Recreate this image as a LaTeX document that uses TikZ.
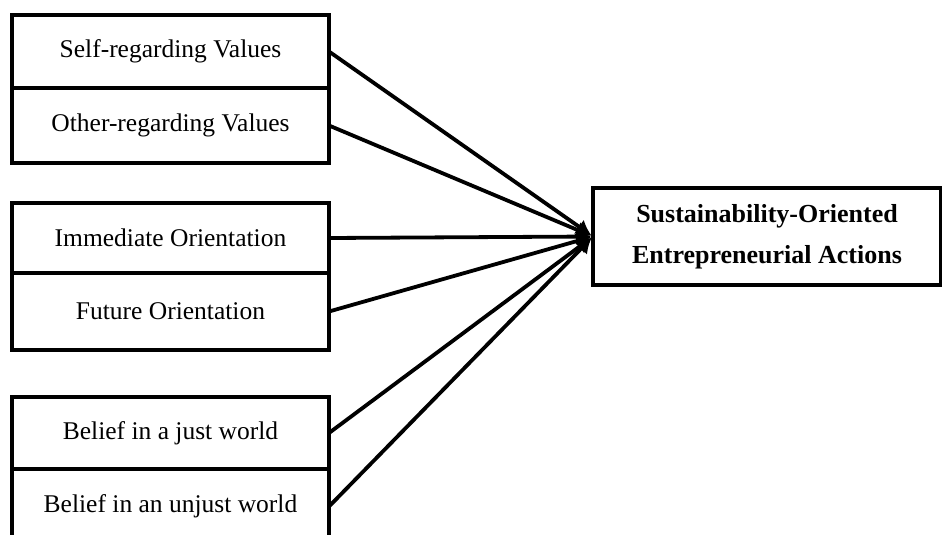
\documentclass[tikz,border=0pt]{standalone}
\usepackage{fontspec}
\setmainfont{Liberation Serif}
\usepackage{tikz}
\usetikzlibrary{arrows.meta, positioning}

\begin{document}
\begin{tikzpicture}[x=1pt, y=-1pt]
\tikzstyle{factor} = [rectangle, minimum width=317pt, minimum height=73pt, outer sep=0pt, inner sep=0pt, text centered, draw=black, line width=4pt, font=\fontsize{25.5}{30}\selectfont]
\tikzstyle{outcome} = [rectangle, minimum width=348pt, minimum height=97pt, outer sep=0pt, text centered, draw=black, line width=4pt, align=center, font=\fontsize{26}{41}\selectfont\bfseries]
\tikzstyle{arrow} = [line width=3.8pt,->,>={Latex[length=15pt,width=17pt]}, shorten >=2pt]

\useasboundingbox (0,0) rectangle (942,535);

% values
\node (self) [factor] at (170.5,51.5) {Self-regarding Values};
\node (other) [factor, minimum height=75pt, below=0pt of self] {Other-regarding Values};
% time orientation
\node (immediate) [factor, minimum height=70pt] at (170.5,238) {Immediate Orientation};
\node (future) [factor, minimum height=77pt, below=0pt of immediate] {Future Orientation};
% justice beliefs
\node (just) [factor, minimum height=72pt] at (170.5,433) {Belief in a just world};
\node (unjust) [factor, minimum height=75pt, below=0pt of just] {Belief in an unjust world};

\node (soea) [outcome] at (767,236.5) {Sustainability-Oriented\\Entrepreneurial Actions};

\draw [arrow] (self.east) -- (soea.west);
\draw [arrow] (other.east) -- (soea.west);
\draw [arrow] (immediate.east) -- (soea.west);
\draw [arrow] (future.east) -- (soea.west);
\draw [arrow] (just.east) -- (soea.west);
\draw [arrow] (unjust.east) -- (soea.west);
\end{tikzpicture}
\end{document}
